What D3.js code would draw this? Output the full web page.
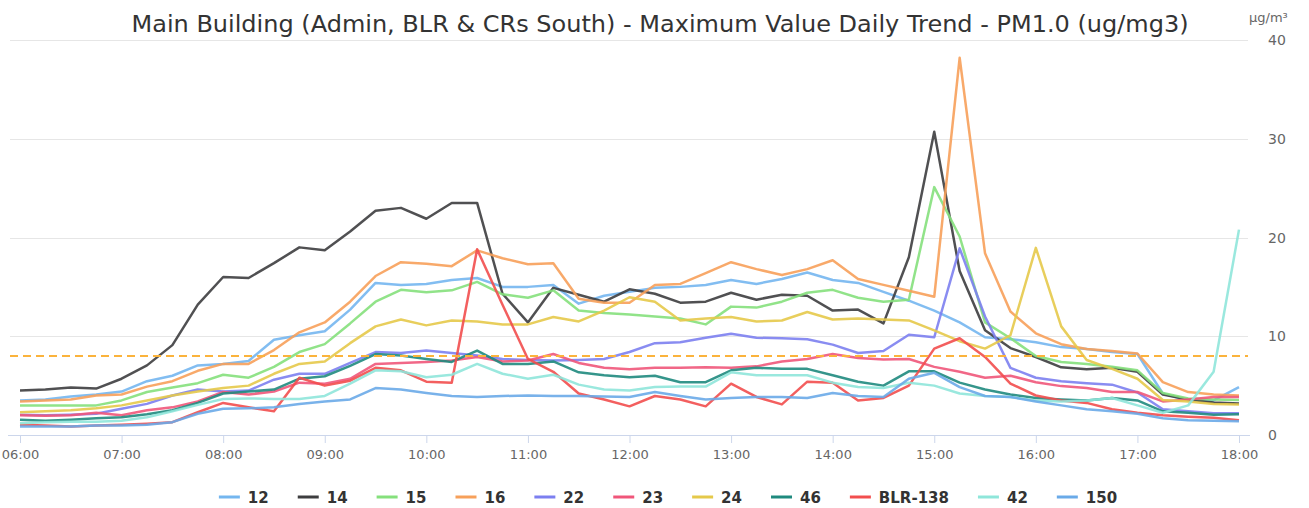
<!DOCTYPE html>
<html>
<head>
<meta charset="utf-8">
<script src="https://d3js.org/d3.v7.min.js"></script>
<style>
body { margin: 0; background: #fff; font-family: 'DejaVu Sans', sans-serif; }
svg { display: block; }
</style>
</head>
<body>
<svg width="1309" height="508"></svg>
<script>
// tick labels on the time axis, one per hour; readings every 15 minutes
var hourLabels = ["06:00","07:00","08:00","09:00","10:00","11:00","12:00","13:00","14:00","15:00","16:00","17:00","18:00"];
var stepMin = 15;

var names = ["12","14","15","16","22","23","24","46","BLR-138","42","150"];
var colors = ["#74b6ef","#3d3d3f","#85e07c","#f7a05a","#7c7ff0","#f0567a","#e5c94a","#1f8a7e","#f24e4e","#8fe6da","#6aaae8"];

var s12 = [3.5,3.6,3.9,4.1,4.4,5.45,6.0,7.05,7.2,7.5,9.65,10.1,10.5,12.7,15.4,15.2,15.3,15.7,15.9,15.0,15.0,15.2,13.3,14.1,14.5,14.9,15.0,15.2,15.7,15.3,15.8,16.45,15.7,15.4,14.5,13.6,12.6,11.4,9.9,9.7,9.4,8.9,8.7,8.4,8.2,4.2,3.5,3.5,4.85];
var s14 = [4.5,4.6,4.8,4.7,5.7,7.05,9.1,13.2,16.0,15.9,17.4,19.0,18.7,20.6,22.7,23.0,21.9,23.5,23.5,14.3,11.4,14.9,14.2,13.5,14.75,14.3,13.4,13.5,14.4,13.7,14.2,14.1,12.6,12.7,11.3,18.0,30.7,16.6,10.6,8.8,7.9,6.85,6.65,6.8,6.4,4.1,3.6,3.3,3.2];
var s15 = [3.0,3.0,3.0,3.0,3.5,4.35,4.8,5.25,6.1,5.8,6.9,8.4,9.2,11.3,13.5,14.7,14.45,14.65,15.5,14.25,13.9,14.65,12.6,12.35,12.2,12.0,11.8,11.2,13.0,12.9,13.5,14.4,14.7,13.9,13.5,13.7,25.1,20.1,11.4,9.8,8.0,7.4,7.2,6.9,6.55,4.25,3.7,3.6,3.55];
var s16 = [3.4,3.5,3.6,4.0,4.1,4.9,5.45,6.5,7.2,7.2,8.6,10.4,11.4,13.5,16.1,17.5,17.35,17.1,18.7,17.9,17.3,17.4,13.8,13.4,13.4,15.2,15.3,16.4,17.5,16.8,16.2,16.8,17.7,15.8,15.2,14.6,14.0,38.2,18.4,12.5,10.3,9.2,8.7,8.5,8.25,5.35,4.35,4.1,4.0];
var s22 = [2.05,2.0,2.05,2.15,2.65,3.15,4.0,4.6,4.4,4.5,5.6,6.2,6.2,7.3,8.4,8.3,8.55,8.3,8.05,7.7,7.6,7.55,7.6,7.7,8.4,9.3,9.4,9.85,10.25,9.85,9.8,9.7,9.15,8.3,8.5,10.15,9.9,18.9,12.0,6.8,5.8,5.45,5.25,5.1,4.3,2.6,2.4,2.2,2.2];
var s23 = [2.0,1.95,2.0,2.25,2.0,2.5,2.8,3.4,4.35,4.1,4.4,5.3,5.2,5.7,7.2,7.3,7.4,7.55,7.9,7.45,7.55,8.2,7.3,6.8,6.65,6.8,6.8,6.85,6.8,6.95,7.45,7.7,8.2,7.8,7.65,7.7,6.9,6.4,5.8,6.0,5.35,4.95,4.75,4.35,4.35,3.4,3.6,3.85,3.85];
var s24 = [2.3,2.4,2.5,2.7,3.0,3.5,4.0,4.4,4.75,5.0,6.2,7.2,7.45,9.3,11.0,11.7,11.1,11.6,11.5,11.2,11.2,11.95,11.5,12.6,13.95,13.5,11.6,11.8,11.95,11.5,11.6,12.45,11.7,11.8,11.7,11.6,10.6,9.5,8.75,10.1,18.95,11.0,7.6,6.7,5.7,3.55,3.4,3.15,3.1];
var s46 = [1.55,1.45,1.55,1.7,1.8,2.1,2.5,3.25,4.2,4.4,4.6,5.7,5.95,7.0,8.2,8.05,7.7,7.4,8.55,7.2,7.2,7.45,6.35,6.05,5.85,6.0,5.35,5.35,6.55,6.8,6.7,6.7,6.05,5.4,5.0,6.45,6.45,5.3,4.6,4.1,3.75,3.6,3.5,3.75,3.5,2.4,2.25,2.05,2.1];
var sBLR = [1.05,0.95,0.85,0.95,1.05,1.15,1.3,2.3,3.25,2.8,2.4,5.8,5.0,5.5,6.8,6.55,5.4,5.3,18.8,13.2,7.7,6.4,4.2,3.6,2.9,3.95,3.6,2.9,5.2,3.85,3.1,5.4,5.3,3.5,3.75,5.0,8.75,9.8,7.9,5.2,4.0,3.5,3.25,2.6,2.25,2.0,1.85,1.75,1.5];
var s42 = [1.2,1.3,1.35,1.35,1.45,1.8,2.4,3.05,3.65,3.7,3.65,3.65,3.95,5.2,6.55,6.45,5.85,6.1,7.2,6.2,5.7,6.1,5.1,4.6,4.5,4.85,4.9,4.9,6.35,6.05,6.05,6.05,5.3,4.85,4.75,5.3,5.0,4.2,3.95,3.85,3.5,3.4,3.5,3.75,3.0,2.25,3.0,6.4,20.8];
var s150 = [0.85,0.85,0.85,0.95,0.95,1.05,1.3,2.15,2.65,2.7,2.8,3.15,3.4,3.6,4.75,4.6,4.25,3.95,3.85,3.95,4.0,3.95,3.95,3.9,3.85,4.35,3.95,3.6,3.75,3.85,3.85,3.75,4.25,3.95,3.85,5.7,6.3,4.85,3.95,3.85,3.4,3.0,2.6,2.4,2.15,1.7,1.5,1.45,1.4];
var seriesValues = [s12,s14,s15,s16,s22,s23,s24,s46,sBLR,s42,s150];

var yTicks = [0,10,20,30,40];
var limit = 8;

var svg = d3.select("svg");

var x = d3.scaleLinear().domain([0, 12*60]).range([20, 1239]);
var y = d3.scaleLinear().domain([0, 40]).range([435, 40]);

// title + unit
svg.append("text")
  .attr("x", 660).attr("y", 32)
  .attr("text-anchor", "middle")
  .attr("textLength", 1057).attr("lengthAdjust", "spacingAndGlyphs")
  .style("font-size", "23px").style("fill", "#333")
  .text("Main Building (Admin, BLR & CRs South) - Maximum Value Daily Trend - PM1.0 (ug/mg3)");

svg.append("text")
  .attr("x", 1249).attr("y", 22)
  .style("font-size", "13px").style("fill", "#666")
  .text("µg/m³");

// grid lines
svg.append("g").selectAll("line")
  .data(yTicks.filter(function(d){ return d > 0; }))
  .join("line")
  .attr("x1", 10).attr("x2", 1248)
  .attr("y1", function(d){ return Math.round(y(d)) + 0.5; })
  .attr("y2", function(d){ return Math.round(y(d)) + 0.5; })
  .attr("stroke", "#e6e6e6").attr("stroke-width", 1);

// y labels on the right
svg.append("g").selectAll("text")
  .data(yTicks)
  .join("text")
  .attr("x", 1268)
  .attr("y", function(d){ return y(d) + 5; })
  .style("font-size", "14px").style("fill", "#666")
  .text(function(d){ return d; });

// x axis
var xAxis = d3.axisBottom(x)
  .tickValues(hourLabels.map(function(h, i){ return i*60; }))
  .tickFormat(function(d, i){ return hourLabels[i]; })
  .tickSize(8).tickSizeOuter(0);

var gx = svg.append("g").attr("transform", "translate(0,435)").call(xAxis);
gx.select(".domain").remove();
gx.append("line").attr("x1", 8).attr("x2", 1250).attr("y1", 0.5).attr("y2", 0.5)
  .attr("stroke", "#ccd6eb");
gx.selectAll(".tick line").attr("stroke", "#ccd6eb");
gx.selectAll(".tick text").attr("y", 15)
  .style("font-size", "13px").style("fill", "#666").style("font-family", "'DejaVu Sans', sans-serif");

// series lines
var line = d3.line()
  .x(function(d, i){ return x(i*stepMin); })
  .y(function(d){ return y(d); });

svg.append("g").selectAll("path")
  .data(seriesValues)
  .join("path")
  .attr("d", line)
  .attr("fill", "none")
  .attr("stroke", function(d, i){ return colors[i]; })
  .attr("stroke-width", 2.5)
  .attr("stroke-linejoin", "round")
  .attr("opacity", 0.9);

// limit line
svg.append("line")
  .attr("x1", 10).attr("x2", 1248)
  .attr("y1", y(limit)).attr("y2", y(limit))
  .attr("stroke", "#fbb33c").attr("stroke-width", 2)
  .attr("stroke-dasharray", "8,5");

// legend
var legend = svg.append("g");
var items = legend.selectAll("g").data(names).join("g");
items.append("line")
  .attr("x1", 0).attr("x2", 21).attr("y1", 0).attr("y2", 0)
  .attr("stroke", function(d, i){ return colors[i]; })
  .attr("stroke-width", 3);
items.append("text")
  .attr("x", 29).attr("y", 5.5)
  .style("font-size", "15px").style("font-weight", "bold").style("fill", "#333")
  .text(function(d){ return d; });

var pos = 0, gap = 29, starts = [];
items.each(function(){
  starts.push(pos);
  pos += 29 + this.querySelector("text").getComputedTextLength() + gap;
});
var total = pos - gap;
var left = 668 - total/2;
items.attr("transform", function(d, i){ return "translate(" + (left + starts[i]) + ",497)"; });
</script>
</body>
</html>
